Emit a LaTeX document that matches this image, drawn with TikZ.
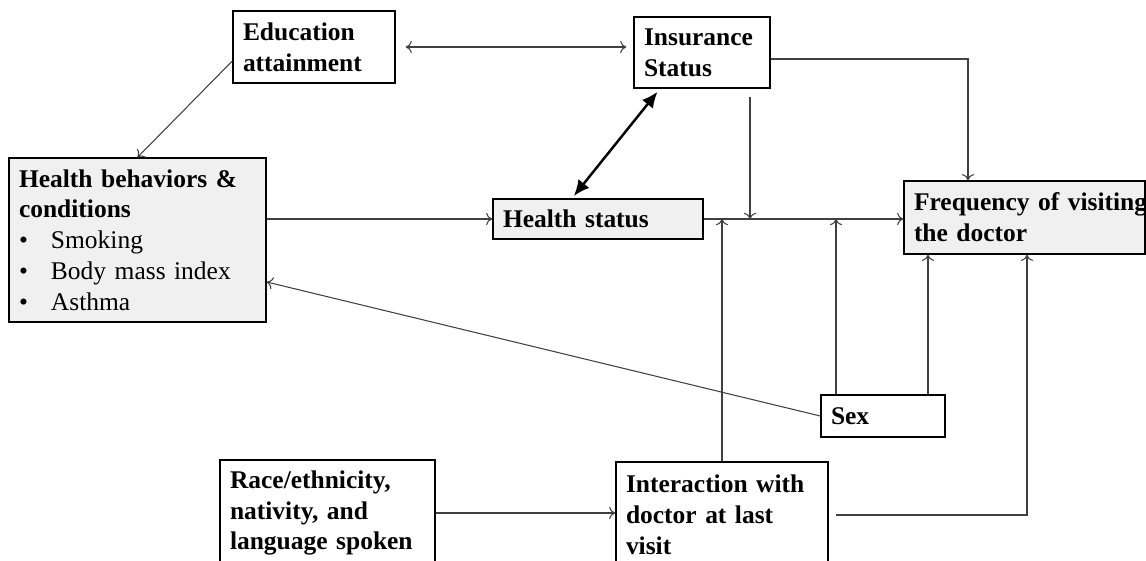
\documentclass[tikz,border=0pt]{standalone}
\usepackage{fontspec}
\setmainfont{Liberation Serif}
\usetikzlibrary{arrows.meta}

\newcommand{\boxfont}{\fontsize{14.5}{17.5}\selectfont\bfseries\spaceskip=0.17em plus 0.05em\relax}

\begin{document}
\begin{tikzpicture}[
    >={To[length=3.5pt,width=7pt]},
    box/.style={draw, line width=0.8pt, inner xsep=0.2cm, inner ysep=0pt,
        align=left, font=\boxfont},
    shaded/.style={fill=black!6},
    link/.style={draw=black!75, line width=0.6pt, ->},
    biglink/.style={line width=1.4pt, {Latex[length=9pt,width=8pt]}-{Latex[length=9pt,width=8pt]}}
]
    \useasboundingbox (0,0) rectangle (22.92,-11.2);

    % Top row
    \node[box, minimum height=1.44cm, text width=2.84cm] (edu) at (6.28,-0.94)
        {Education\\attainment};
    \node[box, minimum height=1.42cm, text width=2.32cm] (ins) at (14.04,-1.05)
        {Insurance\\Status};

    % Middle row
    \node[box, shaded, minimum height=3.28cm, text width=4.74cm] (behav) at (2.75,-4.8)
        {Health behaviors \&\\conditions\\
        {\mdseries\makebox[0.64cm][l]{\textbullet}Smoking}\\
        {\mdseries\makebox[0.64cm][l]{\textbullet}Body mass index}\\
        {\mdseries\makebox[0.64cm][l]{\textbullet}Asthma}};
    \node[box, shaded, minimum height=0.8cm, text width=3.8cm] (hstat) at (11.96,-4.38)
        {Health status};
    \node[box, shaded, minimum height=1.46cm, text width=4.42cm] (freq) at (20.49,-4.35)
        {\mbox{Frequency of visiting}\\the doctor};
    \node[box, minimum height=0.84cm, text width=2.08cm] (sex) at (17.66,-8.32) {Sex};

    % Bottom row
    \node[box, minimum height=2.12cm, text width=3.9cm] (race) at (6.55,-10.26)
        {Race/ethnicity,\\nativity, and\\language spoken};
    \node[box, minimum height=2.12cm, text width=3.84cm] (inter) at (14.44,-10.3)
        {Interaction with\\doctor at last\\visit};

    % Education links
    \draw[link, <->, shorten <=0.2cm, shorten >=0.14cm] (edu.east) -- (edu.east -| ins.west);
    \draw[link] ([yshift=-0.28cm]edu.west) -- (behav.north);

    % Into health status
    \draw[link] (behav.east |- hstat.west) -- (hstat.west);
    \draw[biglink, shorten <=0.08cm, shorten >=0.06cm]
        ([xshift=-0.84cm]ins.south) -- ([xshift=-0.52cm]hstat.north);

    % Into frequency
    \draw[link] ([yshift=-0.13cm]ins.east) -| ([xshift=-1.13cm]freq.north);
    \draw[link] (hstat.east) -- (hstat.east -| freq.west);
    \draw[link, shorten <=0.16cm] ([xshift=0.96cm]ins.south) -- ([xshift=0.96cm]ins.south |- hstat.east);
    \draw[link] (inter.north) -- (inter.north |- hstat.east);
    \draw[link] ([xshift=-0.94cm]sex.north) -- ([xshift=-0.94cm]sex.north |- hstat.east);
    \draw[link] ([xshift=0.9cm]sex.north) -- ([xshift=0.9cm]sex.north |- freq.south);
    \draw[link, shorten <=0.14cm] (inter.east) -| ([xshift=0.05cm]freq.south);

    % Other links
    \draw[link] (sex.west) -- ([yshift=-0.84cm]behav.east);
    \draw[link] (race.east) -- (race.east -| inter.west);
\end{tikzpicture}
\end{document}
